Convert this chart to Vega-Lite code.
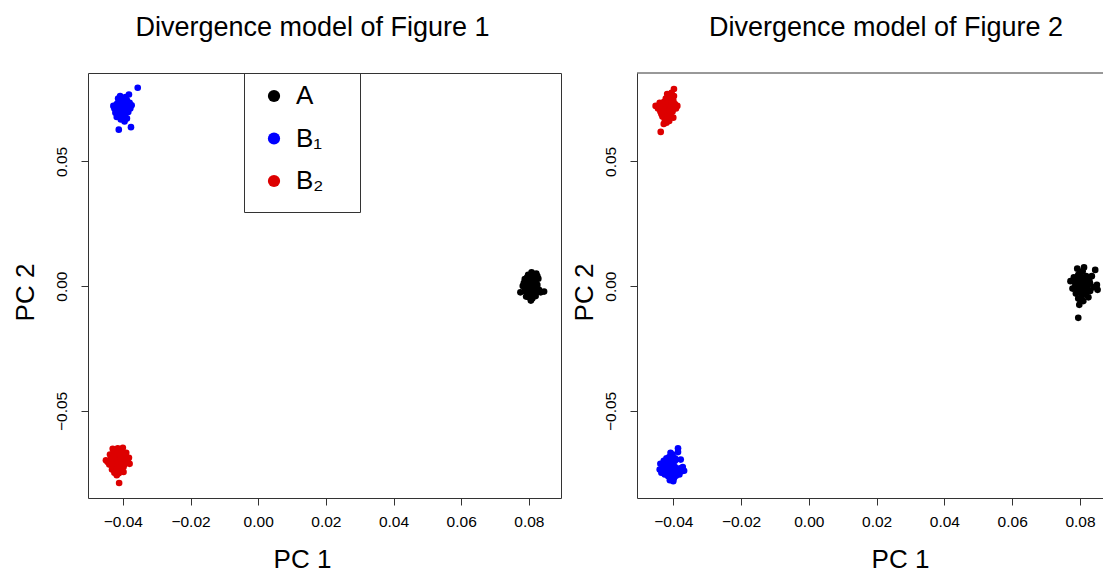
{
  "$schema": "https://vega.github.io/schema/vega-lite/v6.json",
  "padding": {"left": 11, "top": 13, "right": 0, "bottom": 0},
  "background": "white",
  "config": {
    "font": "Liberation Sans",
    "view": {"stroke": "#333"},
    "axis": {"grid": false, "domainColor": "#333", "tickColor": "#333", "tickSize": 7, "labelFontSize": 15.5, "labelColor": "#000", "titleFontSize": 26, "titleFontWeight": "normal", "titleColor": "#000", "labelFont": "Liberation Sans", "titleFont": "Liberation Sans"},
    "title": {"fontSize": 27, "fontWeight": "normal", "font": "Liberation Sans", "color": "#000"}
  },
  "datasets": {
    "fig1": [
      {"group": "B₁", "pc1": -0.0410, "pc2": 0.0720}, {"group": "B₁", "pc1": -0.0400, "pc2": 0.0715}, {"group": "B₁", "pc1": -0.0395, "pc2": 0.0725}, {"group": "B₁", "pc1": -0.0415, "pc2": 0.0705},
      {"group": "B₁", "pc1": -0.0405, "pc2": 0.0700}, {"group": "B₁", "pc1": -0.0390, "pc2": 0.0708}, {"group": "B₁", "pc1": -0.0420, "pc2": 0.0718}, {"group": "B₁", "pc1": -0.0398, "pc2": 0.0735},
      {"group": "B₁", "pc1": -0.0412, "pc2": 0.0740}, {"group": "B₁", "pc1": -0.0385, "pc2": 0.0722}, {"group": "B₁", "pc1": -0.0380, "pc2": 0.0735}, {"group": "B₁", "pc1": -0.0402, "pc2": 0.0750},
      {"group": "B₁", "pc1": -0.0392, "pc2": 0.0758}, {"group": "B₁", "pc1": -0.0408, "pc2": 0.0762}, {"group": "B₁", "pc1": -0.0418, "pc2": 0.0730}, {"group": "B₁", "pc1": -0.0425, "pc2": 0.0712},
      {"group": "B₁", "pc1": -0.0422, "pc2": 0.0695}, {"group": "B₁", "pc1": -0.0410, "pc2": 0.0688}, {"group": "B₁", "pc1": -0.0396, "pc2": 0.0690}, {"group": "B₁", "pc1": -0.0384, "pc2": 0.0698},
      {"group": "B₁", "pc1": -0.0378, "pc2": 0.0712}, {"group": "B₁", "pc1": -0.0374, "pc2": 0.0725}, {"group": "B₁", "pc1": -0.0388, "pc2": 0.0745}, {"group": "B₁", "pc1": -0.0414, "pc2": 0.0752},
      {"group": "B₁", "pc1": -0.0400, "pc2": 0.0678}, {"group": "B₁", "pc1": -0.0406, "pc2": 0.0668}, {"group": "B₁", "pc1": -0.0395, "pc2": 0.0660}, {"group": "B₁", "pc1": -0.0388, "pc2": 0.0672},
      {"group": "B₁", "pc1": -0.0418, "pc2": 0.0678}, {"group": "B₁", "pc1": -0.0402, "pc2": 0.0728}, {"group": "B₁", "pc1": -0.0392, "pc2": 0.0702}, {"group": "B₁", "pc1": -0.0356, "pc2": 0.0795},
      {"group": "B₁", "pc1": -0.0412, "pc2": 0.0627}, {"group": "B₁", "pc1": -0.0376, "pc2": 0.0637}, {"group": "B₁", "pc1": -0.0382, "pc2": 0.0768}, {"group": "B₁", "pc1": -0.0428, "pc2": 0.0722},
      {"group": "B₁", "pc1": -0.0404, "pc2": 0.0710}, {"group": "B₁", "pc1": -0.0396, "pc2": 0.0742}, {"group": "B₁", "pc1": -0.0416, "pc2": 0.0722}, {"group": "B₁", "pc1": -0.0390, "pc2": 0.0718},
      {"group": "B₁", "pc1": -0.0408, "pc2": 0.0732}, {"group": "B₁", "pc1": -0.0420, "pc2": 0.0705}, {"group": "B₁", "pc1": -0.0398, "pc2": 0.0695}, {"group": "B₁", "pc1": -0.0412, "pc2": 0.0695},
      {"group": "B₁", "pc1": -0.0386, "pc2": 0.0730}, {"group": "B₁", "pc1": -0.0404, "pc2": 0.0685}, {"group": "B₁", "pc1": -0.0394, "pc2": 0.0680}, {"group": "B₁", "pc1": -0.0410, "pc2": 0.0748},

      {"group": "B₂", "pc1": -0.0420, "pc2": -0.0680}, {"group": "B₂", "pc1": -0.0410, "pc2": -0.0690}, {"group": "B₂", "pc1": -0.0400, "pc2": -0.0700}, {"group": "B₂", "pc1": -0.0430, "pc2": -0.0700},
      {"group": "B₂", "pc1": -0.0415, "pc2": -0.0710}, {"group": "B₂", "pc1": -0.0405, "pc2": -0.0720}, {"group": "B₂", "pc1": -0.0425, "pc2": -0.0720}, {"group": "B₂", "pc1": -0.0435, "pc2": -0.0690},
      {"group": "B₂", "pc1": -0.0445, "pc2": -0.0705}, {"group": "B₂", "pc1": -0.0392, "pc2": -0.0690}, {"group": "B₂", "pc1": -0.0385, "pc2": -0.0705}, {"group": "B₂", "pc1": -0.0395, "pc2": -0.0715},
      {"group": "B₂", "pc1": -0.0418, "pc2": -0.0665}, {"group": "B₂", "pc1": -0.0405, "pc2": -0.0660}, {"group": "B₂", "pc1": -0.0428, "pc2": -0.0660}, {"group": "B₂", "pc1": -0.0415, "pc2": -0.0650},
      {"group": "B₂", "pc1": -0.0400, "pc2": -0.0648}, {"group": "B₂", "pc1": -0.0390, "pc2": -0.0668}, {"group": "B₂", "pc1": -0.0438, "pc2": -0.0675}, {"group": "B₂", "pc1": -0.0432, "pc2": -0.0735},
      {"group": "B₂", "pc1": -0.0418, "pc2": -0.0740}, {"group": "B₂", "pc1": -0.0405, "pc2": -0.0735}, {"group": "B₂", "pc1": -0.0412, "pc2": -0.0750}, {"group": "B₂", "pc1": -0.0425, "pc2": -0.0748},
      {"group": "B₂", "pc1": -0.0398, "pc2": -0.0745}, {"group": "B₂", "pc1": -0.0440, "pc2": -0.0715}, {"group": "B₂", "pc1": -0.0382, "pc2": -0.0688}, {"group": "B₂", "pc1": -0.0395, "pc2": -0.0678},
      {"group": "B₂", "pc1": -0.0422, "pc2": -0.0695}, {"group": "B₂", "pc1": -0.0408, "pc2": -0.0676}, {"group": "B₂", "pc1": -0.0411, "pc2": -0.0789}, {"group": "B₂", "pc1": -0.0450, "pc2": -0.0698},
      {"group": "B₂", "pc1": -0.0380, "pc2": -0.0712}, {"group": "B₂", "pc1": -0.0430, "pc2": -0.0652},
      {"group": "B₂", "pc1": -0.0412, "pc2": -0.0700}, {"group": "B₂", "pc1": -0.0420, "pc2": -0.0708}, {"group": "B₂", "pc1": -0.0402, "pc2": -0.0708}, {"group": "B₂", "pc1": -0.0428, "pc2": -0.0688},
      {"group": "B₂", "pc1": -0.0398, "pc2": -0.0725}, {"group": "B₂", "pc1": -0.0415, "pc2": -0.0728}, {"group": "B₂", "pc1": -0.0432, "pc2": -0.0712}, {"group": "B₂", "pc1": -0.0410, "pc2": -0.0668},
      {"group": "B₂", "pc1": -0.0425, "pc2": -0.0675}, {"group": "B₂", "pc1": -0.0402, "pc2": -0.0688}, {"group": "B₂", "pc1": -0.0418, "pc2": -0.0758}, {"group": "B₂", "pc1": -0.0392, "pc2": -0.0700},

      {"group": "A", "pc1": 0.0800, "pc2": 0.0010}, {"group": "A", "pc1": 0.0810, "pc2": 0.0000}, {"group": "A", "pc1": 0.0805, "pc2": -0.0015}, {"group": "A", "pc1": 0.0795, "pc2": -0.0005},
      {"group": "A", "pc1": 0.0815, "pc2": 0.0015}, {"group": "A", "pc1": 0.0790, "pc2": 0.0020}, {"group": "A", "pc1": 0.0802, "pc2": 0.0030}, {"group": "A", "pc1": 0.0812, "pc2": 0.0035},
      {"group": "A", "pc1": 0.0798, "pc2": 0.0045}, {"group": "A", "pc1": 0.0808, "pc2": 0.0055}, {"group": "A", "pc1": 0.0822, "pc2": 0.0050}, {"group": "A", "pc1": 0.0820, "pc2": 0.0025},
      {"group": "A", "pc1": 0.0825, "pc2": 0.0005}, {"group": "A", "pc1": 0.0818, "pc2": -0.0010}, {"group": "A", "pc1": 0.0830, "pc2": -0.0015}, {"group": "A", "pc1": 0.0845, "pc2": -0.0022},
      {"group": "A", "pc1": 0.0835, "pc2": -0.0025}, {"group": "A", "pc1": 0.0812, "pc2": -0.0030}, {"group": "A", "pc1": 0.0798, "pc2": -0.0030}, {"group": "A", "pc1": 0.0788, "pc2": -0.0020},
      {"group": "A", "pc1": 0.0775, "pc2": -0.0025}, {"group": "A", "pc1": 0.0782, "pc2": 0.0000}, {"group": "A", "pc1": 0.0785, "pc2": 0.0012}, {"group": "A", "pc1": 0.0800, "pc2": -0.0045},
      {"group": "A", "pc1": 0.0810, "pc2": -0.0050}, {"group": "A", "pc1": 0.0806, "pc2": -0.0058}, {"group": "A", "pc1": 0.0792, "pc2": -0.0042}, {"group": "A", "pc1": 0.0820, "pc2": -0.0040},
      {"group": "A", "pc1": 0.0828, "pc2": 0.0030}, {"group": "A", "pc1": 0.0795, "pc2": 0.0035}, {"group": "A", "pc1": 0.0815, "pc2": -0.0020}, {"group": "A", "pc1": 0.0803, "pc2": 0.0018},
      {"group": "A", "pc1": 0.0808, "pc2": 0.0008}, {"group": "A", "pc1": 0.0800, "pc2": -0.0008}, {"group": "A", "pc1": 0.0815, "pc2": 0.0005}, {"group": "A", "pc1": 0.0795, "pc2": 0.0010},
      {"group": "A", "pc1": 0.0805, "pc2": 0.0025}, {"group": "A", "pc1": 0.0810, "pc2": -0.0038}, {"group": "A", "pc1": 0.0822, "pc2": -0.0025}, {"group": "A", "pc1": 0.0790, "pc2": -0.0012},
      {"group": "A", "pc1": 0.0803, "pc2": -0.0022}, {"group": "A", "pc1": 0.0815, "pc2": 0.0045}, {"group": "A", "pc1": 0.0825, "pc2": 0.0040}, {"group": "A", "pc1": 0.0788, "pc2": 0.0028}
    ],
    "fig2": [
      {"group": "B₂", "pc1": -0.0420, "pc2": 0.0715}, {"group": "B₂", "pc1": -0.0415, "pc2": 0.0725}, {"group": "B₂", "pc1": -0.0425, "pc2": 0.0705}, {"group": "B₂", "pc1": -0.0410, "pc2": 0.0740},
      {"group": "B₂", "pc1": -0.0430, "pc2": 0.0695}, {"group": "B₂", "pc1": -0.0405, "pc2": 0.0752}, {"group": "B₂", "pc1": -0.0412, "pc2": 0.0762}, {"group": "B₂", "pc1": -0.0418, "pc2": 0.0770},
      {"group": "B₂", "pc1": -0.0400, "pc2": 0.0745}, {"group": "B₂", "pc1": -0.0395, "pc2": 0.0730}, {"group": "B₂", "pc1": -0.0392, "pc2": 0.0712}, {"group": "B₂", "pc1": -0.0402, "pc2": 0.0700},
      {"group": "B₂", "pc1": -0.0408, "pc2": 0.0688}, {"group": "B₂", "pc1": -0.0415, "pc2": 0.0678}, {"group": "B₂", "pc1": -0.0425, "pc2": 0.0668}, {"group": "B₂", "pc1": -0.0432, "pc2": 0.0680},
      {"group": "B₂", "pc1": -0.0438, "pc2": 0.0700}, {"group": "B₂", "pc1": -0.0445, "pc2": 0.0712}, {"group": "B₂", "pc1": -0.0452, "pc2": 0.0722}, {"group": "B₂", "pc1": -0.0435, "pc2": 0.0725},
      {"group": "B₂", "pc1": -0.0428, "pc2": 0.0738}, {"group": "B₂", "pc1": -0.0422, "pc2": 0.0752}, {"group": "B₂", "pc1": -0.0410, "pc2": 0.0725}, {"group": "B₂", "pc1": -0.0418, "pc2": 0.0690},
      {"group": "B₂", "pc1": -0.0420, "pc2": 0.0655}, {"group": "B₂", "pc1": -0.0412, "pc2": 0.0662}, {"group": "B₂", "pc1": -0.0400, "pc2": 0.0675}, {"group": "B₂", "pc1": -0.0388, "pc2": 0.0722},
      {"group": "B₂", "pc1": -0.0398, "pc2": 0.0762}, {"group": "B₂", "pc1": -0.0440, "pc2": 0.0735}, {"group": "B₂", "pc1": -0.0398, "pc2": 0.0790}, {"group": "B₂", "pc1": -0.0437, "pc2": 0.0618},
      {"group": "B₂", "pc1": -0.0405, "pc2": 0.0775}, {"group": "B₂", "pc1": -0.0428, "pc2": 0.0650},
      {"group": "B₂", "pc1": -0.0418, "pc2": 0.0705}, {"group": "B₂", "pc1": -0.0422, "pc2": 0.0730}, {"group": "B₂", "pc1": -0.0408, "pc2": 0.0712}, {"group": "B₂", "pc1": -0.0428, "pc2": 0.0715},
      {"group": "B₂", "pc1": -0.0414, "pc2": 0.0748}, {"group": "B₂", "pc1": -0.0405, "pc2": 0.0735}, {"group": "B₂", "pc1": -0.0420, "pc2": 0.0680}, {"group": "B₂", "pc1": -0.0430, "pc2": 0.0708},
      {"group": "B₂", "pc1": -0.0410, "pc2": 0.0700}, {"group": "B₂", "pc1": -0.0400, "pc2": 0.0720}, {"group": "B₂", "pc1": -0.0415, "pc2": 0.0758}, {"group": "B₂", "pc1": -0.0435, "pc2": 0.0690},

      {"group": "B₁", "pc1": -0.0410, "pc2": -0.0720}, {"group": "B₁", "pc1": -0.0400, "pc2": -0.0710}, {"group": "B₁", "pc1": -0.0420, "pc2": -0.0730}, {"group": "B₁", "pc1": -0.0405, "pc2": -0.0740},
      {"group": "B₁", "pc1": -0.0415, "pc2": -0.0705}, {"group": "B₁", "pc1": -0.0395, "pc2": -0.0725}, {"group": "B₁", "pc1": -0.0385, "pc2": -0.0735}, {"group": "B₁", "pc1": -0.0375, "pc2": -0.0742},
      {"group": "B₁", "pc1": -0.0368, "pc2": -0.0740}, {"group": "B₁", "pc1": -0.0430, "pc2": -0.0720}, {"group": "B₁", "pc1": -0.0440, "pc2": -0.0735}, {"group": "B₁", "pc1": -0.0435, "pc2": -0.0748},
      {"group": "B₁", "pc1": -0.0425, "pc2": -0.0755}, {"group": "B₁", "pc1": -0.0415, "pc2": -0.0762}, {"group": "B₁", "pc1": -0.0405, "pc2": -0.0770}, {"group": "B₁", "pc1": -0.0400, "pc2": -0.0782},
      {"group": "B₁", "pc1": -0.0410, "pc2": -0.0778}, {"group": "B₁", "pc1": -0.0392, "pc2": -0.0760}, {"group": "B₁", "pc1": -0.0382, "pc2": -0.0755}, {"group": "B₁", "pc1": -0.0420, "pc2": -0.0690},
      {"group": "B₁", "pc1": -0.0428, "pc2": -0.0700}, {"group": "B₁", "pc1": -0.0412, "pc2": -0.0685}, {"group": "B₁", "pc1": -0.0402, "pc2": -0.0675}, {"group": "B₁", "pc1": -0.0395, "pc2": -0.0690},
      {"group": "B₁", "pc1": -0.0378, "pc2": -0.0695}, {"group": "B₁", "pc1": -0.0386, "pc2": -0.0665}, {"group": "B₁", "pc1": -0.0386, "pc2": -0.0650}, {"group": "B₁", "pc1": -0.0395, "pc2": -0.0700},
      {"group": "B₁", "pc1": -0.0438, "pc2": -0.0712}, {"group": "B₁", "pc1": -0.0372, "pc2": -0.0725}, {"group": "B₁", "pc1": -0.0418, "pc2": -0.0745}, {"group": "B₁", "pc1": -0.0398, "pc2": -0.0748},
      {"group": "B₁", "pc1": -0.0408, "pc2": -0.0668},
      {"group": "B₁", "pc1": -0.0405, "pc2": -0.0725}, {"group": "B₁", "pc1": -0.0415, "pc2": -0.0718}, {"group": "B₁", "pc1": -0.0395, "pc2": -0.0738}, {"group": "B₁", "pc1": -0.0420, "pc2": -0.0745},
      {"group": "B₁", "pc1": -0.0410, "pc2": -0.0755}, {"group": "B₁", "pc1": -0.0425, "pc2": -0.0712}, {"group": "B₁", "pc1": -0.0400, "pc2": -0.0698}, {"group": "B₁", "pc1": -0.0390, "pc2": -0.0745},
      {"group": "B₁", "pc1": -0.0408, "pc2": -0.0702}, {"group": "B₁", "pc1": -0.0430, "pc2": -0.0740}, {"group": "B₁", "pc1": -0.0380, "pc2": -0.0730}, {"group": "B₁", "pc1": -0.0398, "pc2": -0.0770},

      {"group": "A", "pc1": 0.0805, "pc2": 0.0000}, {"group": "A", "pc1": 0.0812, "pc2": 0.0010}, {"group": "A", "pc1": 0.0798, "pc2": -0.0012}, {"group": "A", "pc1": 0.0815, "pc2": -0.0015},
      {"group": "A", "pc1": 0.0800, "pc2": 0.0020}, {"group": "A", "pc1": 0.0790, "pc2": 0.0005}, {"group": "A", "pc1": 0.0820, "pc2": 0.0005}, {"group": "A", "pc1": 0.0828, "pc2": 0.0020},
      {"group": "A", "pc1": 0.0835, "pc2": 0.0040}, {"group": "A", "pc1": 0.0845, "pc2": 0.0065}, {"group": "A", "pc1": 0.0840, "pc2": -0.0005}, {"group": "A", "pc1": 0.0850, "pc2": 0.0005},
      {"group": "A", "pc1": 0.0830, "pc2": -0.0020}, {"group": "A", "pc1": 0.0818, "pc2": -0.0035}, {"group": "A", "pc1": 0.0805, "pc2": -0.0040}, {"group": "A", "pc1": 0.0795, "pc2": -0.0050},
      {"group": "A", "pc1": 0.0810, "pc2": -0.0060}, {"group": "A", "pc1": 0.0798, "pc2": -0.0075}, {"group": "A", "pc1": 0.0788, "pc2": -0.0030}, {"group": "A", "pc1": 0.0778, "pc2": -0.0010},
      {"group": "A", "pc1": 0.0772, "pc2": 0.0020}, {"group": "A", "pc1": 0.0782, "pc2": 0.0035}, {"group": "A", "pc1": 0.0795, "pc2": 0.0045}, {"group": "A", "pc1": 0.0792, "pc2": 0.0070},
      {"group": "A", "pc1": 0.0808, "pc2": 0.0060}, {"group": "A", "pc1": 0.0818, "pc2": 0.0040}, {"group": "A", "pc1": 0.0802, "pc2": 0.0035}, {"group": "A", "pc1": 0.0785, "pc2": 0.0015},
      {"group": "A", "pc1": 0.0825, "pc2": -0.0045}, {"group": "A", "pc1": 0.0795, "pc2": -0.0127}, {"group": "A", "pc1": 0.0852, "pc2": -0.0015}, {"group": "A", "pc1": 0.0812, "pc2": 0.0075},
      {"group": "A", "pc1": 0.0808, "pc2": -0.0005}, {"group": "A", "pc1": 0.0802, "pc2": 0.0010}, {"group": "A", "pc1": 0.0818, "pc2": 0.0015}, {"group": "A", "pc1": 0.0795, "pc2": -0.0022},
      {"group": "A", "pc1": 0.0810, "pc2": -0.0025}, {"group": "A", "pc1": 0.0822, "pc2": -0.0010}, {"group": "A", "pc1": 0.0790, "pc2": 0.0025}, {"group": "A", "pc1": 0.0800, "pc2": 0.0050},
      {"group": "A", "pc1": 0.0812, "pc2": 0.0025}, {"group": "A", "pc1": 0.0830, "pc2": 0.0010}, {"group": "A", "pc1": 0.0802, "pc2": -0.0060}, {"group": "A", "pc1": 0.0785, "pc2": -0.0005}
    ],
    "border": [{}]
  },
  "spacing": 9,
  "resolve": {"scale": {"color": "independent", "x": "independent", "y": "independent"}, "legend": {"color": "independent"}},
  "hconcat": [
    {
      "width": 473,
      "height": 425,
      "title": {"text": "Divergence model of Figure 1", "frame": "group", "anchor": "middle", "dx": -12, "offset": 10, "baseline": "alphabetic"},
      "data": {"name": "fig1"},
      "mark": {"type": "circle", "size": 44, "opacity": 1},
      "encoding": {
        "x": {"field": "pc1", "type": "quantitative", "scale": {"domain": [-0.0503, 0.0895], "nice": false, "zero": false},
          "axis": {"title": "PC 1", "values": [-0.04, -0.02, 0, 0.02, 0.04, 0.06, 0.08], "format": ".2f", "domain": false, "labelPadding": 9, "titleX": 214, "titleY": 69, "titleBaseline": "alphabetic", "titleAlign": "center"}},
        "y": {"field": "pc2", "type": "quantitative", "scale": {"domain": [-0.0849, 0.0854], "nice": false, "zero": false},
          "axis": {"title": "PC 2", "values": [-0.05, 0, 0.05], "format": ".2f", "domain": false, "labelAngle": -90, "labelAlign": "center", "labelBaseline": "middle", "labelPadding": 19.5, "titleX": -63, "titleY": 219, "titleBaseline": "middle", "titleAlign": "center", "titleAngle": -90}},
        "color": {"field": "group", "type": "nominal",
          "scale": {"domain": ["A", "B₁", "B₂"], "range": ["#000000", "#0000FF", "#DD0000"]},
          "legend": {"orient": "none", "legendX": 156, "legendY": 0, "title": "\u2800\u2800\u2800\u2800\u2800\u2800\u2800\u2800\u2800\u2800\u2800\u2800\u2800\u2800\u2800\u2800", "titleOrient": "bottom", "titleFontSize": 8.2, "titlePadding": 0, "titleLimit": 400, "direction": "vertical", "strokeColor": "#333", "padding": 10, "symbolType": "circle", "symbolSize": 150, "symbolStrokeWidth": 0, "symbolOffset": 7, "labelOffset": 9, "labelFontSize": 26, "labelFont": "Liberation Sans", "labelColor": "#000", "rowPadding": 16.5}}
      }
    },
    {
      "width": 466,
      "height": 425,
      "view": {"stroke": null},
      "title": {"text": "Divergence model of Figure 2", "frame": "group", "anchor": "middle", "dx": 16, "offset": 10, "baseline": "alphabetic"},
      "layer": [
        {
          "data": {"name": "fig2"},
          "mark": {"type": "circle", "size": 44, "opacity": 1},
          "encoding": {
            "x": {"field": "pc1", "type": "quantitative", "scale": {"domain": [-0.0507, 0.0868], "nice": false, "zero": false},
              "axis": {"title": "PC 1", "values": [-0.04, -0.02, 0, 0.02, 0.04, 0.06, 0.08], "format": ".2f", "domain": true, "labelPadding": 9, "titleX": 263, "titleY": 69, "titleBaseline": "alphabetic", "titleAlign": "center"}},
            "y": {"field": "pc2", "type": "quantitative", "scale": {"domain": [-0.0849, 0.0854], "nice": false, "zero": false},
              "axis": {"title": "PC 2", "values": [-0.05, 0, 0.05], "format": ".2f", "domain": true, "labelAngle": -90, "labelAlign": "center", "labelBaseline": "middle", "labelPadding": 19.5, "titleX": -53, "titleY": 219, "titleBaseline": "middle", "titleAlign": "center", "titleAngle": -90}},
            "color": {"field": "group", "type": "nominal",
              "scale": {"domain": ["A", "B₁", "B₂"], "range": ["#000000", "#0000FF", "#DD0000"]}, "legend": null}
          }
        },
        {
          "data": {"name": "border"},
          "mark": {"type": "rule", "color": "#333", "strokeWidth": 1},
          "encoding": {"y": {"datum": 0.0854, "type": "quantitative"}}
        }
      ]
    }
  ]
}
